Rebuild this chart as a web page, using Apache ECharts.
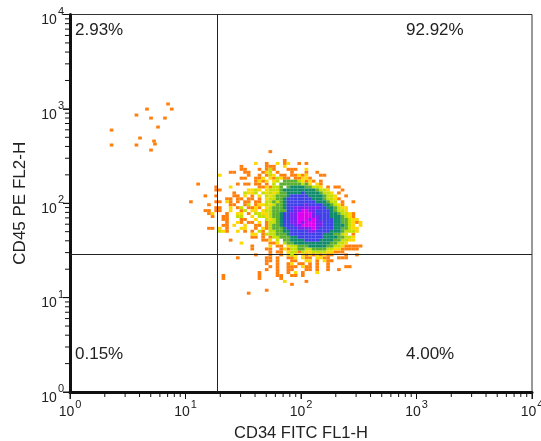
<!DOCTYPE html>
<html><head><meta charset="utf-8">
<script src="https://cdn.jsdelivr.net/npm/echarts@6/dist/echarts.min.js"></script>
<style>html,body{margin:0;padding:0;background:#fff}#c{width:541px;height:441px}</style></head>
<body><div id="c"></div>
<script>
const levelColors = ['', '#ff7f0e', '#ffd800', '#c4e000', '#5cb030', '#0f8a6a', '#4040e8', '#7a20f0', '#e000f0'];
const firstBinCol = 33, firstBinRow = 46, binsPerAxis = 128;
// density level per histogram bin (0 = empty); spaces only group columns
const densityRows = [
"0000000000 0000000000 0010000000",
"",
"",
"0000000000 0000000000 0000001000 00000",
"0000000000 0000000020 0100201200 10100",
"0000000000 0000100000 0111002000 00000",
"0000000000 0000110001 0131000111 0020000",
"0000000000 0110011000 1230100010 0010010",
"0000000020 0000001001 0132011011 2120001100",
"0000000000 0000110011 2021321101 1221000000",
"0000000000 0000000012 1202304444 3212101000",
"0010000000 0001011011 0103044444 4342021000",
"0000000100 0200000001 1213340455 5544332010 11",
"0000000110 0000002232 0233345555 5555543320 0010",
"0000000000 0010032230 3232344555 5655554332 01",
"0000100100 0011020102 0323444566 6665555433 2001",
"0000000000 1101101101 0233445666 6666555433 21000",
"1000000110 2101011011 0334345666 6666655543 3010010",
"0000010000 0110013012 2323445666 6676666554 3210",
"0000000110 0201301121 0234445667 7777776655 43220",
"0000110110 0200130220 2334444667 7887766665 433200",
"0000012000 1002201033 2234456677 8888766665 5433210",
"0000001001 1003300203 3234456677 8888776665 5543210",
"0000000001 1000110020 0323456677 8887876666 55443220",
"0000000000 1002101102 0133456677 8788877666 55443212",
"0000000001 1020020011 0134456667 7888877666 55543202",
"0000011020 1000220010 2134445666 7777876666 55443220",
"0000000032 1002010103 1033445566 6667766665 5543332",
"0000000000 0000000220 1333444566 6666666555 4432010",
"0000000000 0000000110 1013344455 6666666555 5443320",
"0000000000 0100000000 1120304455 5566665555 4433220",
"0000000000 0000200000 0011203445 5555555554 43320",
"0000000000 0000000100 0020110233 4445555544 33211111",
"0000000000 0000000100 0110012133 4433444433 2211111",
"0000000000 0000000000 0010110233 1322333322 1110",
"0000000000 0000000010 0010010232 0212121211 0001001",
"0000000000 0001000000 0110100112 0211022110 01110",
"0000000000 0000000000 0110100011 0022010211 00",
"0000000000 0000000000 0100100120 1101010010",
"0000000000 0000000000 0010100111 0211010010 00011",
"0000000000 0000000000 0100100110 0011010010 01",
"0000000000 0000000001 0000100102 0100020000",
"0000000001 0000000001 0000110011 0100000000",
"0000000001 0000000001 0000010000",
"0000000000 0000000000 0000002000 0010000",
"0000000000 0000000000 000000001",
"",
"0000000000 0000000000 01",
"0000000000 0000001"
];
// isolated events in the upper-left quadrant
const sparseX = [2.29,2.29,3.76,3.76,4.64,5.03,4.04,5.44,5.78,5.03,6.64,7.06,7.6,5.34];
const sparseY = [596,414,414,860,995,799,491,424,642,366,799,1127,995,456];
const quadX = 18.7, quadY = 29;
const majorTicks = [1,10,100,1000,10000];
const minorTicks = [2,3,4,5,6,7,8,9,20,30,40,50,60,70,80,90,200,300,400,500,600,700,800,900,2000,3000,4000,5000,6000,7000,8000,9000];
const xName = 'CD34 FITC FL1-H', yName = 'CD45 PE FL2-H';
const quadrantLabels = ['2.93%', '92.92%', '0.15%', '4.00%'];

const levelData = levelColors.map(() => []);
densityRows.forEach((row, i) => {
  [...row.replace(/ /g, '')].forEach((ch, j) => {
    const lv = +ch;
    if (lv) levelData[lv].push([
      Math.pow(10, (firstBinCol + j + 0.5) * 4 / binsPerAxis),
      Math.pow(10, 4 - (firstBinRow + i + 0.5) * 4 / binsPerAxis)
    ]);
  });
});
sparseX.forEach((x, i) => levelData[1].push([x, sparseY[i]]));

const sup = {
  b: {fontSize: 14, fontFamily: 'Liberation Sans', color: '#222', padding: [8, 0, 0, 0]},
  s: {fontSize: 11, fontFamily: 'Liberation Sans', color: '#222', padding: [0, 0, 6, 1]}
};
const supY = {
  b: {fontSize: 14, fontFamily: 'Liberation Sans', color: '#222', padding: [12, 0, 0, 0]},
  s: {fontSize: 11, fontFamily: 'Liberation Sans', color: '#222', padding: [0, 0, 6, 1]}
};
const fmt = v => '{b|10}{s|' + Math.round(Math.log10(v)) + '}';
const series = [];
levelData.forEach((d, lv) => {
  if (!lv) return;
  series.push({type: 'scatter', data: d, symbol: 'rect', symbolSize: [3.65, 3], silent: true, animation: false,
    large: false, itemStyle: {color: levelColors[lv], opacity: 1}, z: 2 + lv});
});
series.push({type: 'line', data: [], silent: true, animation: false, z: 20, markLine: {silent: true, symbol: 'none', animation: false, label: {show: false},
  lineStyle: {color: '#222', width: 1, type: 'solid'}, data: [{xAxis: quadX}, {yAxis: quadY}]}});
// log-spaced tick marks on both axes, placed through the axes' own scales
const tickSeries = (data, size, offset) => ({type: 'scatter', data, symbol: 'rect', symbolSize: size, symbolOffset: offset,
  clip: false, silent: true, animation: false, itemStyle: {color: '#111', opacity: 1}, z: 25});
series.push(tickSeries(minorTicks.map(v => [v, 1]), [1, 5], [0, 2.5]));
series.push(tickSeries(majorTicks.map(v => [v, 1]), [1, 7], [0, 3.5]));
series.push(tickSeries(minorTicks.map(v => [1, v]), [5, 1], [-2.5, 0]));
series.push(tickSeries(majorTicks.map(v => [1, v]), [7, 1], [-3.5, 0]));

const axisBase = {
  type: 'log', logBase: 10, min: 1, max: 10000, splitLine: {show: false}, minorSplitLine: {show: false},
  axisLine: {show: true, onZero: false, lineStyle: {color: '#111', width: 3}},
  axisTick: {show: true, length: 7, lineStyle: {color: '#222', width: 1}},
};
const option = {
  animation: false, backgroundColor: '#fff',
  grid: {left: 70, right: 9, top: 14.5, bottom: 49, show: true, borderColor: '#333', borderWidth: 1, backgroundColor: 'transparent', outerBoundsMode: 'none', containLabel: false},
  xAxis: Object.assign({}, axisBase, {
    name: xName, nameLocation: 'middle', nameGap: 33,
    nameTextStyle: {fontSize: 16.5, fontFamily: 'Liberation Sans', color: '#222'},
    axisLabel: {formatter: fmt, rich: sup, margin: 5, hideOverlap: false, showMinLabel: true, showMaxLabel: true, alignMaxLabel: 'center', alignMinLabel: 'center'}
  }),
  yAxis: Object.assign({}, axisBase, {
    name: yName, nameLocation: 'middle', nameGap: 41,
    nameTextStyle: {fontSize: 17, fontFamily: 'Liberation Sans', color: '#222'},
    axisLabel: {formatter: fmt, rich: supY, margin: 6, hideOverlap: false, showMinLabel: true, showMaxLabel: true}
  }),
  graphic: [
    [75, 30, 0], [406, 30, 1], [75, 354, 2], [406, 354, 3]
  ].map(p => ({type: 'text', x: p[0], y: p[1], z: 30, style: {text: quadrantLabels[p[2]], fontSize: 17, fontFamily: 'Liberation Sans', fill: '#222', verticalAlign: 'middle'}})),
  series
};
echarts.init(document.getElementById('c'), null, {renderer: 'canvas'}).setOption(option);
</script></body></html>
